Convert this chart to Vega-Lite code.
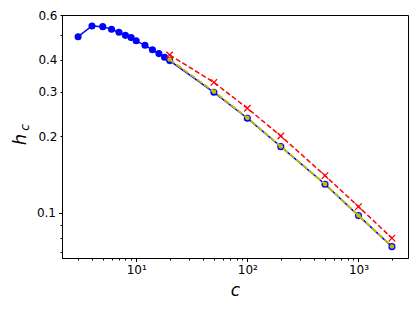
{
  "$schema": "https://vega.github.io/schema/vega-lite/v6.json",
  "width": 346,
  "height": 243,
  "autosize": {"type": "none"},
  "padding": {"left": 62, "top": 15, "right": 9, "bottom": 55},
  "background": "white",
  "config": {
    "view": {"stroke": "black", "strokeWidth": 1},
    "font": "DejaVu Sans",
    "axis": {"grid": false, "domainColor": "black", "tickColor": "black", "labelColor": "black", "labelFont": "DejaVu Sans", "labelFontSize": 12, "titleColor": "black", "titleFontWeight": "normal", "titleFont": "DejaVu Sans"}
  },
  "datasets": {
    "blue": [
      {"c": 3, "h": 0.493}, {"c": 4, "h": 0.543}, {"c": 5, "h": 0.540}, {"c": 6, "h": 0.527},
      {"c": 7, "h": 0.513}, {"c": 8, "h": 0.499}, {"c": 9, "h": 0.489}, {"c": 10, "h": 0.475},
      {"c": 12, "h": 0.456}, {"c": 14, "h": 0.438}, {"c": 16, "h": 0.423}, {"c": 18, "h": 0.409},
      {"c": 20, "h": 0.397}, {"c": 50, "h": 0.298}, {"c": 100, "h": 0.2356}, {"c": 200, "h": 0.1822},
      {"c": 500, "h": 0.1297}, {"c": 1000, "h": 0.0976}, {"c": 2000, "h": 0.0737}
    ],
    "olive": [
      {"c": 20, "h": 0.401}, {"c": 50, "h": 0.300}, {"c": 100, "h": 0.2365}, {"c": 200, "h": 0.1826},
      {"c": 500, "h": 0.1299}, {"c": 1000, "h": 0.0977}, {"c": 2000, "h": 0.0738}
    ],
    "red": [
      {"c": 20, "h": 0.418}, {"c": 50, "h": 0.326}, {"c": 100, "h": 0.258}, {"c": 200, "h": 0.2007},
      {"c": 500, "h": 0.1402}, {"c": 1000, "h": 0.1059}, {"c": 2000, "h": 0.0796}
    ]
  },
  "encoding": {
    "x": {"field": "c", "type": "quantitative",
      "scale": {"type": "log", "domain": [2.15, 2790], "nice": false},
      "axis": {
        "title": "c", "titleFontSize": 17, "titleFontStyle": "italic", "titleBaseline": "alphabetic", "titleY": 37,
        "values": [3,4,5,6,7,8,9,10,20,30,40,50,60,70,80,90,100,200,300,400,500,600,700,800,900,1000,2000],
        "labelExpr": "datum.value == 10 ? '10¹' : datum.value == 100 ? '10²' : datum.value == 1000 ? '10³' : ''",
        "labelPadding": 3, "labelFlush": false, "labelOverlap": false,
        "tickSize": {"condition": {"test": "datum.value == 10 || datum.value == 100 || datum.value == 1000", "value": 3.5}, "value": 2}
      }
    },
    "y": {"field": "h", "type": "quantitative",
      "scale": {"type": "log", "domain": [0.0665, 0.6], "nice": false},
      "axis": null
    }
  },
  "layer": [
    {"data": {"name": "blue"}, "mark": {"type": "line", "color": "#0000ff", "strokeWidth": 1.5},
      "encoding": {"y": {"field": "h", "type": "quantitative",
        "axis": {
          "orient": "left",
          "title": "h", "titleFontSize": 18, "titleFontStyle": "italic", "titleAngle": -90, "titleAlign": "center", "titleBaseline": "alphabetic", "titleX": -37, "titleY": 124,
          "values": [0.07,0.08,0.09,0.1,0.2,0.3,0.4,0.5,0.6],
          "format": ".1f",
          "labelExpr": "(datum.value == 0.1 || datum.value == 0.2 || datum.value == 0.3 || datum.value == 0.4 || datum.value == 0.6) ? datum.label : ''",
          "labelPadding": 3, "labelFlush": false, "labelOverlap": false,
          "tickSize": {"condition": {"test": "datum.value == 0.1", "value": 3.5}, "value": 2}
        }}}},
    {"data": {"name": "blue"}, "mark": {"type": "point", "shape": "circle", "filled": true, "color": "#0000ff", "size": 50, "opacity": 1}},
    {"data": {"name": "olive"}, "mark": {"type": "line", "color": "#bfbf00", "strokeWidth": 2, "strokeDash": [6, 2.5]}},
    {"data": {"name": "olive"}, "mark": {"type": "point", "shape": "circle", "filled": true, "color": "#bfbf00", "size": 22, "opacity": 1}},
    {"data": {"name": "red"}, "mark": {"type": "line", "color": "#ff0000", "strokeWidth": 1.5, "strokeDash": [5, 2.5]}},
    {"data": {"name": "red"}, "mark": {"type": "point", "shape": "M-1,-1L1,1M-1,1L1,-1", "filled": false, "color": "#ff0000", "strokeWidth": 1.3, "size": 42, "opacity": 1},
      "encoding": {"y": {"field": "h", "type": "quantitative", "axis": {"orient": "left", "title": "c", "titleFontSize": 12, "titleFontStyle": "italic", "titleAngle": -90, "titleAlign": "center", "titleBaseline": "alphabetic", "titleX": -34, "titleY": 112, "labels": false, "ticks": false, "domain": false, "grid": false}}}}
  ],
  "resolve": {"axis": {"y": "independent"}}
}
